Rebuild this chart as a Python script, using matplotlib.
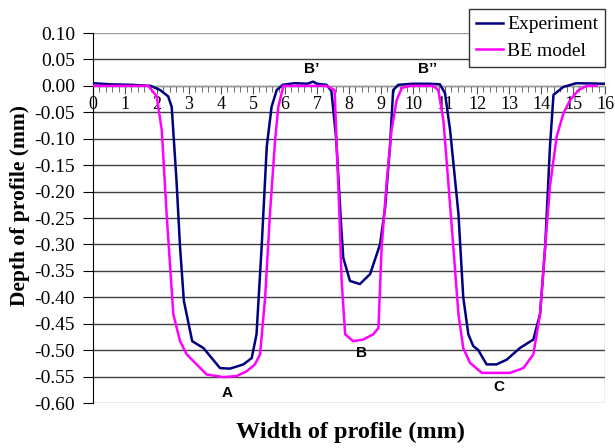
import numpy as np
import matplotlib.pyplot as plt

# ── Data ────────────────────────────────────────────────────
exp_x = [0, 0.5, 1.2, 1.8, 2.1, 2.35, 2.46, 2.61, 2.72, 2.84,
         3.1, 3.45, 3.97, 4.28, 4.70, 4.96, 5.11, 5.27, 5.43, 5.58,
         5.74, 5.93, 6.3, 6.7, 6.88, 7.0, 7.3, 7.45, 7.6, 7.75,
         7.82, 8.03, 8.34, 8.66, 8.97, 9.13, 9.28, 9.38, 9.54, 10.0,
         10.5, 10.84, 11.0, 11.16, 11.42, 11.57, 11.73, 11.88, 12.04, 12.30,
         12.61, 12.93, 13.34, 13.76, 13.97, 14.13, 14.28, 14.39, 14.70, 15.1,
         16.0]
exp_y = [0.005, 0.003, 0.002, 0.0, -0.008, -0.02, -0.04, -0.18, -0.305, -0.407,
         -0.483, -0.496, -0.534, -0.535, -0.527, -0.515, -0.47, -0.305, -0.115, -0.04,
         -0.008, 0.002, 0.005, 0.004, 0.008, 0.004, 0.002, -0.01, -0.10, -0.26,
         -0.325, -0.369, -0.375, -0.356, -0.30, -0.23, -0.115, -0.008, 0.002, 0.004,
         0.004, 0.003, -0.014, -0.084, -0.242, -0.40, -0.47, -0.492, -0.50, -0.527,
         -0.527, -0.518, -0.496, -0.48, -0.432, -0.305, -0.115, -0.017, -0.002, 0.005,
         0.004]

be_x = [0, 1.0, 1.73, 1.99, 2.15, 2.30, 2.51, 2.72, 2.93, 3.24,
        3.55, 4.07, 4.49, 4.80, 5.06, 5.22, 5.38, 5.53, 5.69, 5.79,
        5.95, 6.5, 7.0, 7.30, 7.55, 7.62, 7.70, 7.77, 7.88, 8.13,
        8.44, 8.76, 8.92, 9.02, 9.18, 9.33, 9.49, 9.65, 9.9, 10.3,
        10.63, 10.79, 10.95, 11.1, 11.26, 11.42, 11.57, 11.78, 12.15, 12.61,
        13.03, 13.45, 13.76, 13.97, 14.13, 14.28, 14.49, 14.70, 14.91, 15.17,
        15.43, 15.74]
be_y = [0, 0, 0, -0.02, -0.084, -0.242, -0.432, -0.483, -0.508, -0.527,
        -0.546, -0.551, -0.549, -0.540, -0.527, -0.508, -0.40, -0.242, -0.103, -0.04,
        0.0, 0.0, 0.0, 0.0, -0.008, -0.12, -0.242, -0.369, -0.47, -0.483,
        -0.48, -0.47, -0.458, -0.305, -0.18, -0.084, -0.027, -0.004, 0.0, 0.0,
        0.0, -0.008, -0.065, -0.18, -0.305, -0.432, -0.496, -0.524, -0.543, -0.543,
        -0.543, -0.534, -0.508, -0.432, -0.305, -0.19, -0.096, -0.052, -0.027, -0.008,
        0.0, 0.0]

labels = ['A', 'B', 'C', 'B\u2019', 'B\u2019\u2019']
label_x = [4.19, 8.38, 12.69, 6.84, 10.44]
label_y = [-0.582, -0.505, -0.570, 0.032, 0.032]

# ── Plot ─────────────────────────────────────────────────────
plt.rcParams['font.family'] = ['Liberation Serif', 'DejaVu Serif']

fig = plt.figure(figsize=(6.15, 4.48), dpi=100)
ax = fig.add_axes([93/615, 1 - 403/448, 512/615, 370/448])

yt = np.round(np.arange(-0.60, 0.101, 0.05), 2)
for v in yt:
    c = '#999999' if v > 0.09 or v < -0.59 else '#404040'
    ax.axhline(v, color=c, linewidth=1.0, zorder=1)
ax.axvline(16, color='#aaaaaa', linewidth=1.0, zorder=1)

ax.plot(exp_x, exp_y, color='#000080', linewidth=1.8, label='Experiment', zorder=3)
ax.plot(be_x, be_y, color='#ff00ff', linewidth=1.8, label='BE model', zorder=3)

for t, xx, yy in zip(labels, label_x, label_y):
    ax.text(xx, yy, t, ha='center', va='center', fontsize=11, fontweight='bold',
            family='Liberation Sans')

ax.set_xlim(0, 16)
ax.set_ylim(-0.60, 0.10)
ax.set_yticks(yt)
ax.set_yticklabels([f'{v:.2f}' for v in yt])
ax.set_xticks(range(0, 17))
ax.set_xticks(np.arange(0, 16.01, 0.2), minor=True)

for s in ['top', 'right']:
    ax.spines[s].set_visible(False)
ax.spines['bottom'].set_position(('data', 0))
ax.spines['bottom'].set_color('#999999')
ax.spines['left'].set_color('black')

ax.tick_params(axis='x', which='major', length=6, pad=1, labelsize=13, color='#555555')
ax.tick_params(axis='x', which='minor', length=4, color='#555555')
ax.tick_params(axis='y', length=7, pad=6, labelsize=14)

fig.text(350/615, 1 - 432/448, 'Width of profile (mm)', ha='center', va='center',
         fontsize=17.5, fontweight='bold')
fig.text(20/615, 1 - 206/448, 'Depth of profile (mm)', ha='center', va='center',
         rotation=90, fontsize=15.5, fontweight='bold')

leg = ax.legend(loc='upper right', bbox_to_anchor=(605/615, 1 - 9/448),
                bbox_transform=fig.transFigure, fontsize=14, frameon=True,
                fancybox=False, edgecolor='#333333', framealpha=1,
                handlelength=1.4, handletextpad=0.2, borderpad=0.35,
                labelspacing=0.45, borderaxespad=0)
leg.get_frame().set_linewidth(1.0)
leg.set_zorder(5)

fig.savefig('out.png', dpi=100)
